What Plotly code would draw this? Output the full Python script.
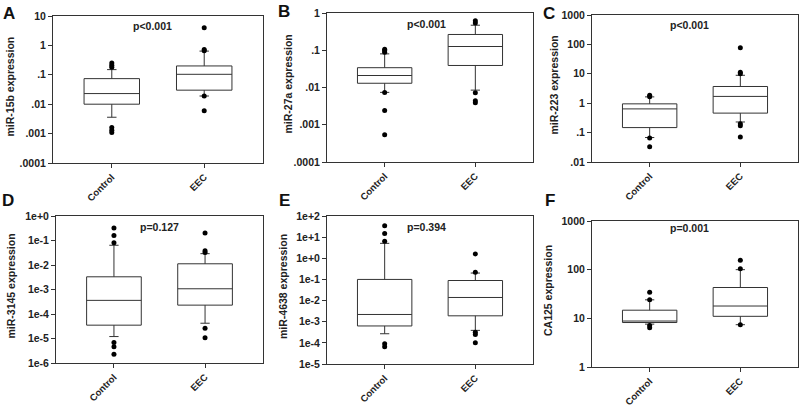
import plotly.graph_objects as go
import math

groups = ["Control", "EEC"]

# Panel A: miR-15b
A_q1 = [0.010, 0.030]
A_median = [0.023, 0.104]
A_q3 = [0.074, 0.20]
A_lower = [0.0036, 0.019]
A_upper = [0.15, 0.64]
A_out_control = [0.25, 0.21, 0.18, 0.0016, 0.0013, 0.0011]
A_out_eec = [4.0, 0.73, 0.66, 0.019, 0.006]

# Panel B: miR-27a
B_q1 = [0.013, 0.039]
B_median = [0.021, 0.126]
B_q3 = [0.034, 0.265]
B_lower = [0.0074, 0.0085]
B_upper = [0.08, 0.47]
B_out_control = [0.106, 0.098, 0.089, 0.0073, 0.0024, 0.00054]
B_out_eec = [0.62, 0.54, 0.0072, 0.0044, 0.0039]

# Panel C: miR-223
C_q1 = [0.148, 0.46]
C_median = [0.64, 1.7]
C_q3 = [0.95, 3.7]
C_lower = [0.068, 0.23]
C_upper = [1.64, 8.9]
C_out_control = [1.87, 1.65, 0.065, 0.033]
C_out_eec = [77, 11.4, 10, 0.2, 0.17, 0.071]

# Panel D: miR-3145
D_q1 = [3.5e-5, 2.3e-4]
D_median = [3.6e-4, 1.07e-3]
D_q3 = [3.3e-3, 1.12e-2]
D_lower = [1.2e-5, 4.2e-5]
D_upper = [0.064, 0.029]
D_out_control = [0.32, 0.16, 0.08, 6.9e-6, 4.6e-6, 2.3e-6]
D_out_eec = [0.2, 0.038, 0.032, 2.6e-5, 1.07e-5]

# Panel E: miR-4638
E_q1 = [6.3e-4, 1.9e-3]
E_median = [2.2e-3, 0.014]
E_q3 = [0.10, 0.089]
E_lower = [2.7e-4, 3.9e-4]
E_upper = [5.1, 0.2]
E_out_control = [35, 15, 6.4, 9e-5, 6.6e-5]
E_out_eec = [1.6, 0.22, 3.2e-4, 2.5e-4, 1.0e-4]

# Panel F: CA125
F_q1 = [8.2, 11]
F_median = [8.8, 17.9]
F_q3 = [14.7, 43]
F_lower = [7.6, 7.4]
F_upper = [24, 100]
F_out_control = [34.4, 24, 7.1, 6.4]
F_out_eec = [156, 104, 7.4]

panel_letters = ["A", "B", "C", "D", "E", "F"]
y_titles = ["miR-15b expression", "miR-27a expression", "miR-223 expression",
            "miR-3145 expression", "miR-4638 expression", "CA125 expression"]
p_texts = ["p<0.001", "p<0.001", "p<0.001", "p=0.127", "p=0.394", "p=0.001"]

A_ticks = [".0001", ".001", ".01", ".1", "1", "10"]
B_ticks = [".0001", ".001", ".01", ".1", "1"]
C_ticks = [".01", ".1", "1", "10", "100", "1000"]
D_ticks = ["1e-6", "1e-5", "1e-4", "1e-3", "1e-2", "1e-1", "1e+0"]
E_ticks = ["1e-5", "1e-4", "1e-3", "1e-2", "1e-1", "1e+0", "1e+1", "1e+2"]
F_ticks = ["1", "10", "100", "1000"]
A_tickvals = [1e-4, 1e-3, 1e-2, 1e-1, 1, 10]
B_tickvals = [1e-4, 1e-3, 1e-2, 1e-1, 1]
C_tickvals = [1e-2, 1e-1, 1, 10, 100, 1000]
D_tickvals = [1e-6, 1e-5, 1e-4, 1e-3, 1e-2, 1e-1, 1]
E_tickvals = [1e-5, 1e-4, 1e-3, 1e-2, 1e-1, 1, 10, 100]
F_tickvals = [1, 10, 100, 1000]

W, H = 800, 406
FONT = "Liberation Sans, Arial, sans-serif"
LINE = "#333333"


def fx(px):
    return px / W


def fy(py):
    return 1 - py / H


panels = [
    (A_q1, A_median, A_q3, A_lower, A_upper, A_out_control, A_out_eec, A_tickvals, A_ticks),
    (B_q1, B_median, B_q3, B_lower, B_upper, B_out_control, B_out_eec, B_tickvals, B_ticks),
    (C_q1, C_median, C_q3, C_lower, C_upper, C_out_control, C_out_eec, C_tickvals, C_ticks),
    (D_q1, D_median, D_q3, D_lower, D_upper, D_out_control, D_out_eec, D_tickvals, D_ticks),
    (E_q1, E_median, E_q3, E_lower, E_upper, E_out_control, E_out_eec, E_tickvals, E_ticks),
    (F_q1, F_median, F_q3, F_lower, F_upper, F_out_control, F_out_eec, F_tickvals, F_ticks),
]

# window-pixel layout boxes: (left, right, top, bottom)
boxes = [(53, 263, 16, 163), (327, 533, 13, 162), (592, 798, 15, 162),
         (56, 263, 216, 363), (327, 533, 216, 364), (592, 798, 221, 367)]
letter_pos = [(9, 13), (284, 12), (549, 13), (8, 200), (284, 200), (550, 200)]
ytitle_x = [9, 287, 553, 10, 283, 548]
p_pos = [(152, 26), (426, 24), (689, 25), (159, 227), (426, 227), (689, 228)]

fig = go.Figure()
annotations = []
layout_axes = {}

for i, (q1, med, q3, lo, hi, oc, oe, tv, tt) in enumerate(panels):
    n = i + 1
    xa = "x" if n == 1 else f"x{n}"
    ya = "y" if n == 1 else f"y{n}"
    fig.add_trace(go.Box(
        x=groups, q1=q1, median=med, q3=q3, lowerfence=lo, upperfence=hi,
        boxpoints=False, width=0.6, whiskerwidth=0.17,
        fillcolor="rgba(255,255,255,1)", line=dict(color=LINE, width=1),
        xaxis=xa, yaxis=ya, showlegend=False, hoverinfo="skip"))
    fig.add_trace(go.Scatter(
        x=[groups[0]] * len(oc) + [groups[1]] * len(oe), y=oc + oe,
        mode="markers", marker=dict(color="black", size=5),
        xaxis=xa, yaxis=ya, showlegend=False, hoverinfo="skip"))
    l, r, t, b = boxes[i]
    xkey = "xaxis" if n == 1 else f"xaxis{n}"
    ykey = "yaxis" if n == 1 else f"yaxis{n}"
    layout_axes[xkey] = dict(
        domain=[fx(l), fx(r)], anchor=ya, type="category", automargin=False,
        range=[-0.636, 1.636], showline=True, mirror=True, linecolor=LINE, linewidth=1,
        ticks="outside", ticklen=4, tickcolor=LINE, tickangle=-45, showgrid=False,
        tickfont=dict(family=FONT, size=9.5, color="#222", weight="bold"), zeroline=False)
    layout_axes[ykey] = dict(
        domain=[fy(b), fy(t)], anchor=xa, type="log", automargin=False,
        range=[math.log10(tv[0]), math.log10(tv[-1])],
        tickvals=tv, ticktext=tt, showline=True, mirror=True, linecolor=LINE, linewidth=1,
        ticks="outside", ticklen=4, tickcolor=LINE, showgrid=False, zeroline=False,
        tickfont=dict(family=FONT, size=10.5, color="#222", weight="bold"))
    lx, ly = letter_pos[i]
    annotations.append(dict(text=panel_letters[i], x=fx(lx), y=fy(ly), xref="paper", yref="paper",
                            showarrow=False, xanchor="center", yanchor="middle",
                            font=dict(family=FONT, size=17, color="#111", weight="bold")))
    annotations.append(dict(text=y_titles[i], x=fx(ytitle_x[i]), y=fy((t + b) / 2 - 3),
                            xref="paper", yref="paper", showarrow=False, textangle=-90,
                            xanchor="center", yanchor="middle",
                            font=dict(family=FONT, size=10.5, color="#222", weight="bold")))
    px, py = p_pos[i]
    annotations.append(dict(text=p_texts[i], x=fx(px), y=fy(py), xref="paper", yref="paper",
                            showarrow=False, xanchor="center", yanchor="middle",
                            font=dict(family=FONT, size=10.5, color="#222", weight="bold")))

fig.update_layout(
    width=W, height=H, margin=dict(l=0, r=0, t=0, b=0),
    paper_bgcolor="white", plot_bgcolor="white",
    annotations=annotations, **layout_axes)

# remove the default page margin so the figure fills the window from its top-left corner
fig.write_html("out.html", config={"displayModeBar": False},
               post_script="document.body.style.margin='0';document.body.style.padding='0';")
